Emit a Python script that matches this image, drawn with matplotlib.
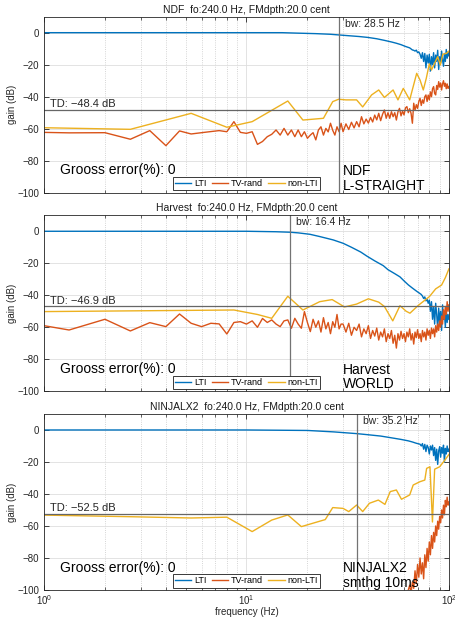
import numpy as np
import matplotlib.pyplot as plt
from matplotlib.ticker import LogLocator, NullFormatter, FixedLocator

plt.rcParams['font.family'] = ['Liberation Sans', 'DejaVu Sans']

# MATLAB default line colours
c_lti = '#0072BD'
c_tv = '#D95319'
c_nl = '#EDB120'

series_names = ['LTI', 'TV-rand', 'non-LTI']
titles = ['NDF  fo:240.0 Hz, FMdpth:20.0 cent',
          'Harvest  fo:240.0 Hz, FMdpth:20.0 cent',
          'NINJALX2  fo:240.0 Hz, FMdpth:20.0 cent']
method_labels = ['NDF\nL-STRAIGHT', 'Harvest\nWORLD', 'NINJALX2\nsmthg 10ms']
td_values = [-48.4, -46.9, -52.5]
bw_values = [28.5, 16.4, 35.2]
gross_errors = [0, 0, 0]

# frequency grids (Hz)
tv_low_f = [0.67, 1.33, 2.0, 2.67, 3.33, 4.0, 4.67, 5.33, 6.0, 6.67,
            7.33, 8.0, 8.67, 9.33, 10.0, 10.67, 11.33, 12.0, 12.67, 13.33,
            14.0, 14.67, 15.33, 16.0, 16.67, 17.33, 18.0, 18.67, 19.33, 20.0,
            20.67, 21.33, 22.0, 22.67, 23.33, 24.0, 24.67, 25.33, 26.0, 26.67,
            27.33, 28.0, 28.67, 29.33]
tv_high_f = list(range(30, 101))

# ---- NDF / L-STRAIGHT ----
ndf_lti_f = [1, 10, 15, 18, 22, 26, 28.5, 32, 36, 40, 44, 48, 52, 55, 58, 61, 64] + list(range(66, 101))
ndf_lti_db = [0, 0, 0, -0.3, -0.6, -1.0, -1.4, -1.9, -2.4, -3.0, -3.8, -4.8, -5.8, -6.6, -7.5, -8.6, -9.5,
              -10.8, -11.0, -11.5, -10.9, -12.5, -12.0, -13.5, -16.0, -12.5, -18.0,
              -13.0, -22.0, -14.0, -19.0, -13.5, -24.0, -15.0, -20.0, -12.5, -22.0,
              -14.0, -18.0, -11.0, -23.0, -15.0, -19.0, -11.5, -17.0, -21.0, -13.0,
              -18.0, -10.5, -16.0, -12.0, -14.5]
ndf_tv_db = [-61.9, -62.6, -62.5, -66.6, -61.2, -70.6, -61.4, -63.3, -62.5, -61.8,
             -61.2, -61.9, -55.6, -62.3, -62.9, -61.9, -69.8, -68.0, -65.0, -63.5,
             -60.8, -64.0, -59.8, -64.0, -60.8, -65.0, -60.8, -65.0, -61.9, -66.0,
             -64.0, -62.5, -67.0, -60.8, -58.8, -64.0, -59.8, -62.0, -56.6, -61.0,
             -64.0, -58.8, -61.9, -56.6,
             -61.9, -57.0, -60.5, -56.0, -59.5, -55.6, -58.8, -52.5, -57.0, -54.0,
             -56.5, -53.0, -55.8, -51.5, -54.5, -50.4, -55.0, -51.0, -48.3, -53.5,
             -50.0, -53.5, -49.4, -52.5, -50.0, -54.6, -49.5, -47.3, -52.0, -49.0,
             -51.4, -47.0, -46.2, -50.0, -47.5, -50.4, -56.6, -44.1, -48.5, -45.0,
             -47.3, -43.0, -41.0, -45.5, -42.0, -44.1, -40.0, -38.9, -43.0, -39.0,
             -42.0, -37.0, -40.0, -35.0, -33.7, -38.0, -38.9, -33.0, -35.5, -30.6,
             -34.0, -31.5, -35.8, -32.0, -30.0, -33.5, -31.6, -35.0, -32.0, -34.8,
             -33.7]
ndf_nl_f = [1.0, 2.67, 5.33, 8.0, 10.67, 16.0, 19.0, 24.0, 26.67, 28.5,
            31.0, 35.0, 37.5, 41.5, 45.0, 48.0, 53.0, 56.0, 59.5, 64.0,
            69.3, 72.0, 74.7, 77.3, 80.0, 82.0, 85.0, 88.0, 90.7, 93.3,
            97.3, 100]
ndf_nl_db = [-59.4, -60.4, -50.4, -59.1, -55.6, -42.7, -54.6, -53.5, -43.1, -41.6,
             -42.0, -42.0, -46.4, -38.9, -35.8, -40.5, -35.8, -42.0, -34.8, -42.0,
             -25.4, -29.6, -35.8, -28.5, -19.5, -23.3, -19.1, -15.0, -20.2, -13.5,
             -12.9, -11.5]

# ---- Harvest / WORLD ----
hv_lti_f = [1, 10, 14, 16.4, 18, 20.6, 23, 26.8, 30, 33, 36.7, 39.3, 43, 47.4, 50,
            54, 57.3, 60, 63, 66, 69.3, 73] + list(range(74, 101))
hv_lti_db = [0, 0, -0.3, -0.6, -1.0, -1.9, -3.3, -5.4, -7.5, -10.0, -13.0, -15.5, -18.5, -21.5, -24.0,
             -26.5, -28.5, -31.0, -33.5, -35.5, -37.5, -39.5,
             -40.5, -42.0, -41.0, -43.5, -42.5, -45.0, -43.0, -50.0, -44.0, -55.0,
             -47.0, -58.0, -45.0, -52.0, -61.0, -48.0, -57.0, -50.0, -62.0, -46.0,
             -55.0, -51.0, -60.0, -49.0, -57.0, -52.0, -55.0]
hv_tv_db = [-55.2, -61.7, -55.0, -62.3, -57.1, -59.6, -51.7, -57.5, -59.6, -57.5,
            -57.9, -64.2, -57.0, -56.5, -58.0, -56.0, -60.0, -54.5, -57.0, -55.4,
            -58.0, -59.6, -56.0, -55.4, -60.6, -54.4, -58.0, -60.6, -50.2, -57.0,
            -62.7, -55.0, -60.0, -56.0, -63.0, -54.0, -61.0, -57.0, -64.0, -56.5,
            -60.0, -52.0, -61.0, -58.0,
            -58.0, -63.0, -57.5, -65.0, -60.0, -62.0, -58.0, -66.0, -61.0, -64.0,
            -59.0, -67.0, -62.0, -65.5, -60.5, -68.0, -63.0, -66.0, -61.0, -69.0,
            -64.0, -67.0, -62.0, -70.0, -65.0, -73.0, -64.0, -68.0, -62.5, -67.0,
            -64.0, -69.0, -63.0, -66.0, -61.0, -68.0, -64.0, -70.5, -63.0, -66.5,
            -61.5, -67.0, -64.0, -69.0, -62.0, -66.0, -63.0, -68.0, -61.0, -65.0,
            -62.0, -67.0, -60.5, -64.0, -61.0, -66.0, -59.0, -63.0, -58.0, -62.0,
            -56.0, -60.0, -53.0, -58.0, -49.0, -55.0, -47.0, -52.0, -44.0, -50.0,
            -46.0]
hv_nl_f = [1.0, 8.67, 11.33, 13.33, 16.0, 19.0, 23.0, 26.5, 30.5, 35.0,
           40.0, 45.0, 48.0, 52.8, 57.3, 61.5, 64.2, 70.6, 80.0, 86.0,
           92.0, 96.0, 100]
hv_nl_db = [-50.2, -49.2, -52.0, -54.4, -40.6, -49.2, -44.0, -42.7, -47.3, -45.5,
            -42.2, -44.3, -47.0, -56.0, -46.5, -50.0, -51.2, -46.3, -40.9, -36.0,
            -33.6, -29.0, -23.5]

# ---- NINJALX2 / smthg 10ms ----
nj_lti_f = [1, 10, 20, 27, 35.2, 40, 46, 52, 58, 63, 66, 69, 72] + list(range(73, 101))
nj_lti_db = [0, 0, -0.3, -1.2, -2.3, -3.0, -3.8, -4.9, -5.9, -6.8, -7.5, -8.3, -8.9,
             -10.0, -8.5, -12.0, -9.0, -13.5, -9.5, -11.0, -15.0, -10.0, -12.5,
             -9.5, -16.0, -11.0, -19.0, -12.0, -21.5, -13.0, -10.5, -17.0, -11.0,
             -14.5, -9.5, -20.0, -11.5, -15.0, -10.0, -13.5, -12.0]
nj_tv_f = list(range(60, 101))
nj_tv_db = [-112, -108, -104, -100, -97, -102, -95, -99, -88, -96,
            -84, -92, -80, -90, -83, -93, -78, -86, -74, -82,
            -70, -78, -66, -74, -64, -70, -60, -66, -57, -62,
            -54, -58, -50, -55, -47, -53, -44, -48, -42, -47,
            -45]
nj_nl_f = [1.0, 2.67, 5.33, 8.0, 10.67, 13.33, 16.0, 18.67, 24.5, 26.67,
           30.0, 32.0, 35.0, 37.5, 40.5, 44.8, 48.3, 51.3, 55.0, 58.3,
           64.0, 66.6, 72.0, 76.0, 77.6, 80.6, 82.9, 85.0, 90.0, 95.5,
           100]
nj_nl_db = [-53.2, -54.2, -55.0, -54.5, -63.5, -56.3, -53.1, -60.4, -56.0, -48.5,
            -49.0, -51.0, -46.9, -51.0, -45.8, -43.8, -46.5, -38.5, -37.5, -43.3,
            -40.6, -34.4, -32.3, -31.3, -24.0, -23.0, -57.5, -24.5, -23.0, -18.8,
            -15.3]

panels = [
    (ndf_lti_f, ndf_lti_db, tv_low_f + tv_high_f, ndf_tv_db, ndf_nl_f, ndf_nl_db),
    (hv_lti_f, hv_lti_db, tv_low_f + tv_high_f, hv_tv_db, hv_nl_f, hv_nl_db),
    (nj_lti_f, nj_lti_db, nj_tv_f, nj_tv_db, nj_nl_f, nj_nl_db),
]

fig = plt.figure(figsize=(4.56, 6.2), dpi=100)
bottoms = [0.6892, 0.3689, 0.0484]

for i, (lf, ld, tf, td, nf, nd) in enumerate(panels):
    ax = fig.add_axes([0.0965, bottoms[i], 0.888, 0.2839])
    ax.set_xscale('log')

    # grid, MATLAB style
    ax.grid(True, which='major', color='0.87', linestyle='-', linewidth=0.6)
    ax.grid(True, which='minor', axis='x', color='0.78', linestyle=':', linewidth=0.6)
    ax.set_axisbelow(True)

    ax.plot(lf, ld, color=c_lti, lw=1.0, label=series_names[0])
    ax.plot(tf, td, color=c_tv, lw=1.0, label=series_names[1])
    ax.plot(nf, nd, color=c_nl, lw=1.0, label=series_names[2])

    # threshold and bandwidth markers
    ax.axhline(td_values[i], color='0.4', lw=0.9)
    ax.axvline(bw_values[i], color='0.45', lw=0.9)
    td_txt = ('TD: %.1f dB' % td_values[i]).replace('-', '\u2212')
    ax.text(1.07, td_values[i] + 3.6, td_txt, fontsize=8,
            va='center', ha='left', color='0.15')
    ax.text(bw_values[i] * 1.07, 5.5, 'bw: %.1f Hz' % bw_values[i], fontsize=7.5,
            va='center', ha='left', color='0.15')
    ax.text(1.2, -86, 'Grooss error(%%): %d' % gross_errors[i], fontsize=10,
            va='center', ha='left')
    ax.text(30, -91, method_labels[i], fontsize=10, va='center', ha='left',
            linespacing=1.05)

    ax.set_xlim(1, 100)
    ax.set_ylim(-100, 10)
    ax.yaxis.set_major_locator(FixedLocator([-100, -80, -60, -40, -20, 0]))
    ax.xaxis.set_major_locator(LogLocator(base=10, numticks=5))
    ax.xaxis.set_minor_locator(LogLocator(base=10, subs=np.arange(2, 10), numticks=20))
    ax.xaxis.set_minor_formatter(NullFormatter())
    ax.tick_params(which='both', direction='in', top=True, right=True,
                   labelsize=7, colors='0.15')
    ax.tick_params(which='major', length=3.5, width=0.6)
    ax.tick_params(which='minor', length=2, width=0.5)
    ax.tick_params(axis='x', pad=2)
    for s in ax.spines.values():
        s.set_color('0.15')
        s.set_linewidth(0.6)

    ax.set_ylabel('gain (dB)', fontsize=7, color='0.15', labelpad=0)
    ax.set_title(titles[i], fontsize=7.5, pad=3, color='0.1')
    if i < 2:
        ax.set_xticklabels([])
    else:
        ax.set_xlabel('frequency (Hz)', fontsize=7, color='0.15', labelpad=0)

    leg = ax.legend(loc='lower center', ncol=3, fontsize=6.5, frameon=True,
                    fancybox=False, edgecolor='0.1', framealpha=1,
                    handlelength=1.8, handletextpad=0.3, columnspacing=0.6,
                    borderpad=0.25, borderaxespad=0.25)
    leg.get_frame().set_linewidth(0.6)

fig.savefig('out.png', dpi=100)
